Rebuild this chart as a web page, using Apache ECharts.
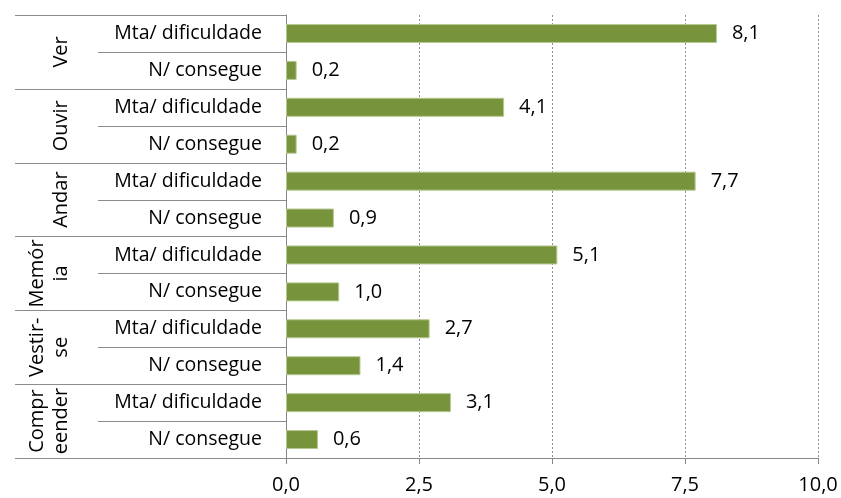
<!DOCTYPE html>
<html>
<head>
<meta charset="utf-8">
<script src="https://cdn.jsdelivr.net/npm/echarts@6/dist/echarts.min.js"></script>
<style>
html,body{margin:0;padding:0;background:#fff;}
#chart{width:841px;height:498px;}
</style>
</head>
<body>
<div id="chart"></div>
<script>
const groups = ['Ver', 'Ouvir', 'Andar', 'Memór\nia', 'Vestir-\nse', 'Compr\neender'];
const subCategories = ['Mta/ dificuldade', 'N/ consegue', 'Mta/ dificuldade', 'N/ consegue', 'Mta/ dificuldade', 'N/ consegue', 'Mta/ dificuldade', 'N/ consegue', 'Mta/ dificuldade', 'N/ consegue', 'Mta/ dificuldade', 'N/ consegue'];
const values = [8.1, 0.2, 4.1, 0.2, 7.7, 0.9, 5.1, 1.0, 2.7, 1.4, 3.1, 0.6];
const xTicks = [0, 2.5, 5, 7.5, 10];
// table separator rows: [category index whose top edge gets a line, isGroupBoundary]
const separators = [[0, 1], [1, 0], [2, 1], [3, 0], [4, 1], [5, 0], [6, 1], [7, 0], [8, 1], [9, 0], [10, 1], [11, 0], [12, 1]];

const FONT = '"Open Sans", "Noto Sans", sans-serif';
const fmt = v => v.toFixed(1).replace('.', ',');
const GROUP_LEFT = 15, SUB_LEFT = 98;

const chart = echarts.init(document.getElementById('chart'), null, {renderer: 'canvas'});
chart.setOption({
  animation: false,
  backgroundColor: '#ffffff',
  grid: {left: 286, right: 23, top: 15, bottom: 40, containLabel: false},
  xAxis: {
    type: 'value',
    min: xTicks[0],
    max: xTicks[xTicks.length - 1],
    interval: 2.5,
    axisLine: {show: true, lineStyle: {color: '#868686', width: 1}},
    axisTick: {show: true, length: 6, lineStyle: {color: '#868686'}},
    splitLine: {show: true, lineStyle: {color: '#8c8c8c', type: [2, 2], width: 1}},
    axisLabel: {color: '#000', fontFamily: FONT, fontSize: 20, margin: 17, formatter: v => fmt(v)}
  },
  yAxis: [
    {
      type: 'category',
      inverse: true,
      data: subCategories,
      position: 'left',
      axisLine: {show: true, lineStyle: {color: '#868686', width: 1}},
      axisTick: {show: false},
      splitLine: {show: false},
      axisLabel: {color: '#000', fontFamily: FONT, fontSize: 19.5, margin: 24, interval: 0}
    },
    {
      type: 'category',
      inverse: true,
      data: groups,
      position: 'left',
      offset: 0,
      axisLine: {show: false},
      splitLine: {show: false},
      axisTick: {show: false},
      axisLabel: {color: '#000', fontFamily: FONT, fontSize: 20, lineHeight: 24, rotate: 90, margin: 213, interval: 0}
    }
  ],
  series: [{
    type: 'bar',
    yAxisIndex: 0,
    data: values,
    barWidth: 19,
    itemStyle: {color: '#77933C', borderColor: '#b4c88f', borderWidth: 1},
    label: {
      show: true,
      position: 'right',
      distance: 15,
      color: '#000',
      fontFamily: FONT,
      fontSize: 20,
      formatter: p => fmt(p.value)
    }
  }, {
    type: 'custom',
    yAxisIndex: 0,
    clip: false,
    silent: true,
    z: 1,
    data: separators.map(s => [0, s[0], s[1]]),
    encode: {x: 0, y: 1},
    renderItem: function (params, api) {
      const idx = api.value(1);
      const isGroup = api.value(2);
      const band = api.size([0, 1])[1];
      let y;
      if (idx >= subCategories.length) {
        y = api.coord([0, subCategories.length - 1])[1] + band / 2;
      } else {
        y = api.coord([0, idx])[1] - band / 2;
      }
      const x0 = api.coord([0, 0])[0];
      y = Math.round(y) + 0.5;
      return {
        type: 'line',
        shape: {x1: isGroup ? GROUP_LEFT : SUB_LEFT, y1: y, x2: x0, y2: y},
        style: {stroke: '#8c8c8c', lineWidth: 1}
      };
    }
  }]
});
</script>
</body>
</html>
